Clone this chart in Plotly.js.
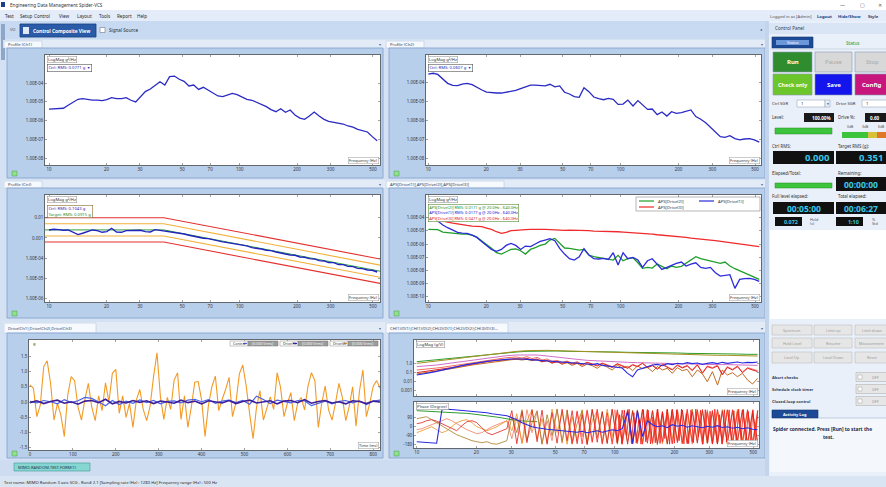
<!DOCTYPE html>
<html>
<head>
<meta charset="utf-8">
<script src="https://cdn.plot.ly/plotly-3.0.1.min.js"></script>
<style>
  html, body { margin: 0; padding: 0; background: #d3e1f2; overflow: hidden; }
  #chart { width: 886px; height: 487px; }
</style>
</head>
<body>
<div id="chart"></div>
<script>
// ---------------- data ----------------
// frequency grid of the spectral views (Hz)
const freqHz = [10,10.6,11.2,11.9,12.6,13.4,14.2,15.0,15.9,16.9,17.9,19.0,20.1,21.3,22.6,24.0,25.4,26.9,28.5,30.2,
  32.0,34.0,36.0,38.2,40.5,42.9,45.5,48.2,51.1,54.2,57.4,60.9,64.5,68.4,72.5,76.9,81.5,86.4,91.5,97.0,
  103,109,116,123,130,138,146,155,164,174,184,195,207,219,232,246,261,277,293,311,330,349,370,393,416,441,468,496,526];
const freqHzCoarse = [10,11.2,12.6,14.2,15.9,17.9,20.1,22.6,25.4,28.5,32.0,36.0,40.5,45.5,51.1,57.4,64.5,72.5,81.5,91.5,
  103,116,130,146,164,184,207,232,261,293,330,370,416,468,526];
const freqHzFine = [100,102.8,105.7,108.7,111.7,114.9,118.1,121.4,124.8,128.3,131.9,135.6,139.4,143.3,147.3,151.5,155.7,
  160.1,164.6,169.2,174.0,178.9,183.9,189.0,194.3,199.8,205.4,211.2,217.1,223.2,229.5,235.9,242.5,249.3,256.3,263.5,
  270.9,278.5,286.4,294.4,302.7,311.2,319.9,328.9,338.1,347.6,357.4,367.4,377.7,388.3,399.2,410.4,422.0,433.8,446.0,
  458.5,471.4,484.6,498.2,512.2,526.6];

// Profile (Ch1) and Profile (Ch2), g^2/Hz
const ch1Psd = [4.0e-6,4.1e-6,4.3e-6,4.5e-6,6.5e-6,9.8e-6,1.35e-5,1.45e-5,1.29e-5,1.23e-5,
  1.23e-5,1.15e-5,1.29e-5,1.66e-5,1.45e-5,1.45e-5,1.66e-5,1.20e-5,9.8e-6,1.74e-5,
  3.47e-5,4.79e-5,7.76e-5,1.17e-4,7.76e-5,2.19e-4,2.34e-4,1.58e-4,1.23e-4,6.92e-5,
  7.76e-5,4.57e-5,5.89e-5,4.27e-5,2.82e-5,2.04e-5,1.86e-5,2.40e-5,2.82e-5,2.40e-5,
  1.74e-5,1.35e-5,1.20e-5,9.3e-6,6.9e-6,5.5e-6,3.8e-6,2.95e-6,4.27e-6,2.75e-6,
  3.63e-6,1.95e-6,1.35e-6,1.15e-6,1.74e-6,2.82e-6,1.74e-6,1.15e-6,9.1e-7,8.3e-7,
  7.4e-7,6.5e-7,5.1e-7,4.4e-7,3.4e-7,2.9e-7,2.45e-7,1.38e-7,8.3e-8];
const ch2Psd = [2.63e-4,2.88e-4,2.51e-4,1.38e-4,8.5e-5,6.6e-5,6.4e-5,7.8e-5,8.5e-5,7.2e-5,
  5.0e-5,3.8e-5,2.95e-5,2.75e-5,2.63e-5,2.63e-5,2.95e-5,3.2e-5,3.6e-5,4.5e-5,
  5.5e-5,6.9e-5,6.9e-5,6.6e-5,6.2e-5,7.6e-5,5.6e-5,6.2e-5,2.88e-5,2.34e-5,
  1.70e-5,1.55e-5,5.0e-5,3.1e-5,1.62e-5,1.32e-5,1.17e-5,1.38e-5,1.23e-5,6.6e-6,
  6.9e-6,1.12e-5,5.5e-6,1.05e-5,6.6e-6,3.6e-6,3.8e-6,1.91e-6,2.63e-6,1.62e-6,
  2.75e-6,2.24e-6,2.45e-6,2.95e-6,3.4e-6,1.51e-6,1.10e-6,7.2e-7,4.1e-7,2.34e-7,
  1.32e-7,1.23e-7,1.51e-7,1.05e-7,9.1e-8,1.0e-7,1.05e-7,8.9e-8,6.9e-8];

// Profile (Ctrl): control spectrum, reference profile and tolerance lines
const ctrlPsd = [2.49e-3,2.69e-3,2.58e-3,2.39e-3,2.49e-3,1.98e-3,1.47e-3,1.71e-3,2.14e-3,2.49e-3,
  2.31e-3,1.91e-3,2.06e-3,3.01e-3,1.98e-3,1.91e-3,2.31e-3,2.31e-3,2.22e-3,2.39e-3,
  2.06e-3,1.98e-3,2.58e-3,2.39e-3,2.22e-3,1.98e-3,1.84e-3,1.64e-3,1.58e-3,1.36e-3,
  1.21e-3,1.12e-3,9.7e-4,9.3e-4,8.0e-4,7.4e-4,6.4e-4,5.9e-4,5.5e-4,4.7e-4,
  4.4e-4,4.1e-4,3.35e-4,3.23e-4,2.88e-4,2.48e-4,2.39e-4,2.05e-4,1.83e-4,1.70e-4,
  1.46e-4,1.41e-4,1.16e-4,1.12e-4,9.6e-5,9.3e-5,7.7e-5,7.4e-5,6.1e-5,6.1e-5,
  4.9e-5,4.9e-5,4.0e-5,3.9e-5,3.2e-5,3.1e-5,2.66e-5,2.56e-5,2.12e-5];
const profileFreqHz = [9, 40, 560];
const profileTarget = [2.5e-3, 2.5e-3, 2.2e-5];
const alarmHigh = [5.0e-3, 5.0e-3, 4.4e-5];
const alarmLow = [1.25e-3, 1.25e-3, 1.1e-5];
const abortHigh = [1.0e-2, 1.0e-2, 8.8e-5];
const abortLow = [6.3e-4, 6.3e-4, 5.5e-6];

// APS of the three drives
const apsDrive2 = [1.30e-5,1.30e-5,1.23e-5,8.1e-6,7.3e-6,6.5e-6,6.1e-6,5.7e-6,5.7e-6,4.8e-6,
  3.2e-6,1.69e-6,9.4e-7,4.7e-7,2.20e-7,1.74e-7,2.62e-7,3.9e-7,4.2e-7,3.1e-7,
  1.74e-7,3.9e-7,5.3e-7,7.9e-7,1.0e-6,2.01e-6,2.69e-6,1.26e-6,5.0e-7,4.7e-7,
  3.9e-7,3.5e-7,3.9e-7,1.46e-7,1.09e-7,9.7e-8,8.1e-8,7.3e-8,6.1e-8,1.38e-7,
  5.4e-8,7.7e-8,9.2e-8,3.8e-8,1.42e-8,1.69e-8,1.50e-8,3.0e-8,1.90e-8,1.34e-8,
  2.13e-8,1.69e-8,2.01e-8,3.4e-8,6.1e-8,1.09e-7,7.7e-8,6.1e-8,4.8e-8,4.1e-8,
  3.4e-8,4.3e-8,2.13e-8,1.34e-8,9.4e-9,6.7e-9,4.4e-9,2.94e-9,2.07e-9];
const apsDrive1 = [1.06e-4,1.0e-4,5.6e-5,2.77e-5,1.74e-5,1.16e-5,7.7e-6,6.8e-6,6.5e-6,4.8e-6,
  3.2e-6,1.50e-6,7.5e-7,3.9e-7,2.77e-7,3.9e-7,7.9e-7,1.12e-6,7.9e-7,3.9e-7,
  7.0e-7,6.3e-7,1.0e-6,1.60e-6,2.01e-6,2.54e-6,1.79e-6,4.7e-7,1.74e-7,7.7e-8,
  6.1e-8,1.09e-7,4.4e-7,1.46e-7,7.7e-8,7.3e-8,8.1e-8,6.8e-8,2.20e-7,2.54e-8,
  2.20e-7,7.7e-8,9.7e-8,6.1e-8,1.69e-8,5.4e-8,7.7e-8,3.0e-8,1.19e-8,1.69e-8,
  2.40e-8,3.4e-8,4.3e-8,2.13e-8,3.0e-8,3.8e-8,1.69e-8,1.42e-8,1.69e-8,6.7e-9,
  3.7e-9,4.2e-9,4.7e-9,4.3e-10,2.07e-9,2.33e-9,2.47e-9,2.07e-9,1.46e-9];
const apsDrive3 = [1.06e-4,8.4e-5,6.7e-5,5.6e-5,4.7e-5,3.9e-5,3.3e-5,2.77e-5,2.62e-5,2.33e-5,
  2.20e-5,2.07e-5,1.64e-5,1.30e-5,8.6e-6,6.5e-6,7.7e-6,1.03e-5,1.09e-5,1.23e-5,
  1.23e-5,1.30e-5,1.38e-5,1.30e-5,1.30e-5,1.23e-5,1.16e-5,1.23e-5,1.09e-5,1.16e-5,
  1.09e-5,1.16e-5,1.03e-5,1.03e-5,9.7e-6,9.7e-6,9.2e-6,9.7e-6,8.6e-6,8.6e-6,
  8.1e-6,7.7e-6,7.7e-6,6.8e-6,6.5e-6,6.1e-6,5.7e-6,5.1e-6,4.8e-6,4.3e-6,
  4.1e-6,3.8e-6,3.6e-6,3.2e-6,2.86e-6,2.69e-6,2.40e-6,2.26e-6,2.01e-6,1.79e-6,
  1.60e-6,1.42e-6,1.26e-6,1.12e-6,1.0e-6,8.9e-7,7.5e-7,6.7e-7,6.3e-7];

// drive time histories (ms, V)
const timeMs = [0,8,16,24,32,40,48,56,64,72,80,88,96,104,112,120,128,136,144,152,160,168,176,184,192,200,
  208,216,224,232,240,248,256,264,272,280,288,296,304,312,320,328,336,344,352,360,368,376,384,392,400,
  408,416,424,432,440,448,456,464,472,480,488,496,504,512,520,528,536,544,552,560,568,576,584,592,600,
  608,616,624,632,640,648,656,664,672,680,688,696,704,712,720,728,736,744,752,760,768,776,784,792,800,808,816];
const driveCh2 = [0.56,0.45,-0.48,-0.10,1.16,1.35,0.61,-0.59,-0.04,-0.43,
  -1.13,0.23,0.83,0.70,-0.17,-0.59,0.09,0.61,-0.17,-0.61,
  0.20,-0.28,0.63,0.01,0.94,1.07,-0.37,0.20,-0.50,-0.04,
  -0.83,0.07,0.41,-0.24,-0.61,-0.13,0.83,1.61,0.17,-0.57,
  0.15,-0.24,0.72,0.96,-0.57,0.20,-0.83,-0.17,0.65,0.67,
  0.07,-1.13,-0.10,0.50,0.85,-0.28,0.09,0.41,0.81,-0.48,
  -0.02,0.92,1.21,0.52,-0.39,-1.20,-0.17,0.37,-0.59,-0.24,
  0.17,-0.24,0.96,0.48,-0.48,-0.04,0.31,-0.61,-0.04,0.15,
  -0.26,0.52,0.96,0.70,-0.83,-0.04,0.52,-0.26,-0.59,-0.04,
  0.61,0.15,-0.61,-0.15,0.50,-0.79,0.37,1.05,-0.48,-0.04,
  0.52,0.70,0.45];
const timeMsSlow = [0,16,32,48,64,80,96,112,128,144,160,176,192,208,224,240,256,272,288,304,320,336,352,368,384,400,
  416,432,448,464,480,496,512,528,544,560,576,592,608,624,640,656,672,688,704,720,736,752,768,784,800,816];
const driveCh1 = [0.02,-0.03,0.05,0.01,-0.06,0.08,-0.02,0.04,0.15,0.12,
  0.00,-0.12,0.05,-0.08,0.03,-0.04,0.07,-0.02,0.05,-0.06,
  0.02,0.04,-0.03,0.06,0.09,0.01,0.08,-0.04,0.03,0.06,
  -0.02,0.05,-0.07,0.19,0.08,-0.05,0.06,0.02,-0.03,0.05,
  0.04,-0.12,-0.04,0.03,-0.06,0.02,0.05,-0.03,0.04,-0.08,
  0.03,0.06];
const driveCh3 = [-0.02,0.04,-0.05,0.02,0.06,-0.04,0.01,-0.07,0.03,0.05,
  -0.02,0.09,-0.06,0.02,-0.03,0.05,-0.01,0.04,-0.05,0.03,
  0.00,-0.04,0.06,-0.02,0.03,-0.06,0.04,0.01,-0.03,0.05,
  -0.05,0.02,0.06,-0.03,0.01,0.04,-0.06,0.03,0.05,-0.02,
  0.08,-0.04,0.02,0.05,-0.03,0.01,-0.06,0.04,0.02,-0.05,
  0.03,0.00];

// transfer functions: magnitude (g/V)
const frfMagRed = [0.087,0.103,0.112,0.144,0.17,0.20,0.24,0.31,0.40,0.51,
  0.66,0.78,0.92,1.18,1.40,1.66,1.96,2.14,2.53,2.75,
  2.99,2.53,3.26,2.14,2.75,1.40,1.80,1.09,1.29,0.92,
  1.40,0.78,1.09,0.60,1.18,0.71,0.47,0.92,0.55,0.33,
  0.78,0.47,0.26,0.60,0.40,0.92,0.31,0.51,0.20,0.66,
  0.36,0.17,0.55,0.28,0.47,0.144,0.60,0.073,0.40,0.26,
  0.47,0.048,0.33,0.17,0.40,0.087,0.26,0.17,0.112];
const frfMagBrown = [0.062,0.073,0.087,0.112,0.144,0.17,0.20,0.24,0.31,0.40,
  0.47,0.60,0.71,0.85,1.09,1.29,1.52,1.80,2.14,2.32,
  2.53,2.14,2.53,1.80,2.32,1.29,1.96,0.92,1.52,0.71,
  1.09,0.55,0.92,0.40,0.78,0.51,0.26,0.66,0.36,0.17,
  0.55,0.28,0.43,0.144,0.47,0.24,0.33,0.112,0.40,0.17,
  0.26,0.073,0.31,0.144,0.20,0.031,0.17,0.062,0.0089,0.112,
  0.0038,0.17,0.048,0.087,0.031,0.073,0.0135,0.0049,0.021];
const frfMagSalmon = [0.17,0.185,0.20,0.24,0.28,0.33,0.40,0.47,0.60,0.78,
  0.92,1.09,1.40,1.66,1.96,2.32,2.75,3.26,3.86,4.20,
  4.56,3.54,4.97,2.99,4.20,2.14,2.75,1.52,1.96,1.18,
  1.66,0.92,1.40,0.71,1.09,0.85,0.55,1.0,0.66,0.40,
  0.85,0.51,0.31,0.71,0.43,1.0,0.36,0.60,0.24,0.78,
  0.43,0.20,0.66,0.33,0.55,0.17,0.71,0.087,0.47,0.31,
  0.55,0.062,0.40,0.20,0.47,0.103,0.31,0.20,0.144];
const frfMagBlue = [0.048,0.057,0.073,0.094,0.121,0.17,0.22,0.28,0.40,0.51,
  0.66,0.85,1.09,1.29,1.52,1.80,2.14,2.32,2.53,2.75,
  2.99,2.75,2.53,2.32,2.14,1.96,1.80,1.66,1.40,1.29,
  1.09,1.18,0.92,1.0,0.78,0.66,0.85,0.55,0.47,0.40,
  0.33,0.28,0.073,0.031,0.17,0.26,0.47,0.60,0.71,0.51,
  0.85,0.66,0.92,0.78,1.09,0.85,1.0,0.71,0.92,1.09,
  0.85,1.18,0.92,1.09,1.29,1.0,1.18,1.09,1.29];
const frfMagGreen = [1.40,1.80,2.32,2.99,3.86,4.97,6.40,8.24,10.6,13.7,16.2,19.1,20.8,20.8,20.8,19.1,19.1,17.6,
  17.6,16.2,16.2,14.9,14.9,13.7,13.7,12.6,12.6,11.5,11.5,10.6,10.6,9.75,9.75,8.96,8.96];
const frfMagOlive = [0.92,1.18,1.52,2.14,2.99,4.20,5.88,8.24,11.5,14.9,19.1,22.6,24.7,24.7,22.6,20.8,19.1,17.6,
  16.2,14.9,13.7,12.6,11.5,10.6,9.75,8.96,8.24,8.24,7.57,7.57,6.96,6.96,6.40,6.40,5.88];
const frfMagPink = [0.40,0.47,0.60,0.85,1.18,1.80,2.53,3.54,4.97,6.40,7.57,8.24,7.57,5.88,4.20,2.99,2.53,1.96,
  1.66,1.40,1.29,1.18,1.09,1.0,0.92,0.85,0.78,0.78,0.71,0.71,0.66,0.66,0.60,0.60,0.55];

// transfer functions: phase (degree)
const phaseRed = [30,40,60,70,55,30,0,-20,-40,10,50,60,40,-10,-60,-80,-60,-40,-20,
  160,-170,150,-160,170,-150,165,-175,140,-165,175,-140,160,-170,120,-180,170,-155,150,-170,
  175,-160,165,-175,155,-150,170,-165,160,-178,145,-170,175,-160,168,-172,150,-165,172,-158,
  162,-175,155,-168,170,-150,165,-172,158,-160];
const phaseSalmon = [-30,-20,0,20,40,60,80,60,30,0,-30,-50,-70,-60,-30,0,20,40,60,
  -120,90,-160,170,-60,150,-170,60,-140,175,-165,120,-175,160,-100,170,-160,140,-175,80,
  -150,170,-165,155,-170,130,-160,175,-140,165,-170,100,-165,172,-155,160,-175,150,-120,170,
  -168,158,-172,165,-160,140,-175,168,-150,120];
const phaseBrown = [80,90,100,70,40,10,-20,-50,-80,-100,-120,-140,-150,-160,-150,-170,-175,-160,-140,
  100,-60,170,-140,40,160,-175,120,-90,175,-150,165,-170,30,160,-165,175,-110,150,-160,
  170,-175,110,-150,165,-170,175,-130,160,-165,150,-175,170,-140,165,-160,175,-150,160,-170,
  145,-165,170,-175,150,-160,172,-168,140,-155];
const phaseOrange = [-60,-40,-20,0,-30,-60,-40,0,40,60,70,40,0,-20,-40,-20,0,30,60,
  -40,130,-170,60,170,-120,80,-160,175,-60,150,-175,100,-140,170,-170,60,160,-155,175,
  -100,140,-175,165,-130,170,-160,120,-175,150,-165,175,-120,160,-170,140,-150,175,-165,130,
  -175,160,-140,170,-160,175,-130,150,-170,100];
const phaseRedHigh = [170,-165,150,-172,160,-150,175,-168,140,-175,165,-160,172,-170,155,-175,168,-162,175,-150,
  170,-172,160,-168,175,-155,165,-175,150,-170,172,-160,168,-175,155,-165,170,-172,160];
const phaseRedFine = [170,-160,120,-175,165,-90,175,-170,140,-165,60,-175,170,-150,165,-172,100,-160,175,-168,
  150,-120,172,-175,160,-165,170,-140,175,-172,130,-170,168,-160,175,-100,165,-175,170,-158,
  155,-172,175,-165,120,-175,170,-150,168,-172,160,-168,175,-130,172,-175,150,-165,170,-160,165];
const phaseGreen = [160,158,156,154,152,150,147,144,141,137,133,128,123,117,111,104,96,88,78,68,62,58,55,52,50];
const phaseBlue = [-150,-155,-160,-165,-165,170,175,172,168,164,160,155,150,145,140,130,125,118,110,90,
  70,40,20,0,-10,-20,-25,-30,-35,-40,-45,-50,-55,-45,-60,-50,-40,-55,-45,-30,
  -40,-20,150,-170,160,-100,60,20,0,10,-10,20,5,15,-5,10,0,-10,5,-5,
  10,-8,0,-15,-5,-20,-10,-25,-30];

// tick labels
const freqTickVals = [10,20,30,50,70,100,200,300,500];
const freqTickText = ['10','20','30','50','70','100','200','300','500'];
const psdTickVals = [1e-4,1e-5,1e-6,1e-7,1e-8];
const psdTickText = ['1.00E-04','1.00E-05','1.00E-06','1.00E-07','1.00E-08'];
const ctrlTickVals = [1e-2,1e-3,1e-4,1e-5,1e-6];
const ctrlTickText = ['0.01','0.001','1.00E-04','1.00E-05','1.00E-06'];
const apsTickVals = [1e-4,1e-5,1e-6,1e-7,1e-8,1e-9,1e-10];
const apsTickText = ['1.00E-04','1.00E-05','1.00E-06','1.00E-07','1.00E-08','1.00E-09','1.00E-10'];
const timeTickVals = [0,100,200,300,400,500,600,700,800];
const timeTickText = ['0','100','200','300','400','500','600','700','800'];
const voltTickVals = [1.5,1,0.5,0,-0.5,-1,-1.5];
const voltTickText = ['1.5','1.0','0.5','0.0','-0.5','-1.0','-1.5'];
const frfTickVals = [1,0.1,0.01,0.001];
const frfTickText = ['1.0','0.1','0.01','0.001'];
const phaseTickVals = [90,0,-90,-180];
const phaseTickText = ['90','0','-90','-180'];

// ---------------- page geometry helpers ----------------
const W = 886, H = 487;
const FONT = 'Noto Sans, DejaVu Sans, sans-serif';
const fx = v => v / W;
const fy = v => 1 - v / H;
const shapes = [];
const notes = [];

function rect(x0, y0, x1, y1, fill, line, lw, layer) {
  shapes.push({type: 'rect', xref: 'paper', yref: 'paper',
    x0: fx(x0), x1: fx(x1), y0: fy(y1), y1: fy(y0),
    fillcolor: fill, line: {color: line || 'rgba(0,0,0,0)', width: line ? (lw || 0.7) : 0},
    layer: layer || 'below'});
}
function seg(x0, y0, x1, y1, color, w, layer) {
  shapes.push({type: 'line', xref: 'paper', yref: 'paper',
    x0: fx(x0), x1: fx(x1), y0: fy(y0), y1: fy(y1),
    line: {color: color, width: w || 1}, layer: layer || 'above'});
}
function label(x, y, text, o) {
  o = o || {};
  const a = {xref: 'paper', yref: 'paper', x: fx(x), y: fy(y), text: text, showarrow: false,
    xanchor: o.xa || 'left', yanchor: o.ya || 'middle', align: o.align || 'left',
    font: {family: o.family || FONT, size: o.size || 5, color: o.color || '#1d2a40'}};
  if (o.bg) a.bgcolor = o.bg;
  if (o.border) { a.bordercolor = o.border; a.borderwidth = o.bw || 0.6; a.borderpad = o.pad === undefined ? 0.8 : o.pad; }
  notes.push(a);
}

// ---------------- window chrome ----------------
rect(0, 0, W, 10, '#ffffff');
rect(1, 2, 5, 7, '#1d3f8a');
label(8, 5, 'Engineering Data Management Spider-VCS', {size: 4.6, color: '#333'});
label(842, 5, '—', {size: 5, color: '#555', xa: 'center'});
label(862, 5, '▢', {size: 5, color: '#555', xa: 'center'});
label(880, 5, '✕', {size: 5, color: '#555', xa: 'center'});

rect(0, 10, W, 21, '#e3ecf8');
[['Test', 3], ['Setup', 18], ['Control', 32], ['View', 57], ['Layout', 75], ['Tools', 97], ['Report', 115], ['Help', 135]]
  .forEach(m => label(m[1], 16, m[0], {size: 4.6, color: '#2a2a2a'}));
label(768, 16, 'Logged in as [Admin]', {size: 4.2, color: '#555'});
label(815, 16, '<b>Logout</b>', {size: 4.2, color: '#1c3e7a'});
label(836, 16, '<b>Hide/Show</b>', {size: 4.2, color: '#1c3e7a'});
label(866, 16, '<b>Style</b>', {size: 4.2, color: '#1c3e7a'});

rect(0, 21, 767, 39, '#c7daf1');
rect(1, 24, 5, 60, '#8ea7c8');
label(8, 29, 'VO', {size: 4, color: '#555'});
rect(20, 24, 96, 37, '#2a5ba8', '#163f7e', 0.8);
rect(23, 27, 29, 34, '#dfe9f7');
label(31, 30.5, '<b>Control Composite View</b>', {size: 4.8, color: '#ffffff'});
rect(100, 27.5, 105, 32.5, '#ffffff', '#6a7a90', 0.6);
label(107, 30, 'Signal Source', {size: 4.6, color: '#2a2a2a'});

// ---------------- panels ----------------
function panel(x0, x1, tabY0, tabY1, frameY1, title, tabW, plotRects) {
  rect(x0 - 4, tabY0, x1 + 2, tabY1, '#e3ebf7');
  rect(x0 - 3, tabY0 + 1, x0 - 3 + tabW, tabY1, '#f6f9fd', '#a9bedb', 0.5);
  label(x0 - 1, (tabY0 + tabY1) / 2 + 0.5, title, {size: 4.2, color: '#34435c'});
  label(x1 - 3, (tabY0 + tabY1) / 2 + 0.5, '▾', {size: 4, color: '#667', xa: 'center'});
  rect(x0, tabY1, x1, frameY1, '#b8cfec', '#7f9fcb', 0.8);
  plotRects.forEach(r => rect(r[0], r[1], r[2], r[3], '#ffffff'));
  rect(x0 + 5, frameY1 - 7, x0 + 10, frameY1 - 2, '#8fe08f', '#4a9a4a', 0.5);
}
panel(7, 383, 40, 48, 178, 'Profile (Ch1)', 38, [[45, 55, 380, 165]]);
panel(389, 765, 40, 48, 178, 'Profile (Ch2)', 38, [[426, 55, 761, 165]]);
panel(7, 383, 180, 188, 318, 'Profile (Ctrl)', 38, [[45, 195, 380, 302]]);
panel(389, 765, 180, 188, 318, 'APS[Drive(1)],APS[Drive(2)],APS[Drive(3)]', 118, [[426, 195, 761, 302]]);
panel(7, 383, 322, 333, 458, 'Drive(Ch1),Drive(Ch2),Drive(Ch3)', 92, [[29, 340, 380, 450]]);
panel(389, 765, 322, 333, 458, 'CH(1)/D(1),CH(1)/D(2),CH(2)/D(1),CH(2)/D(2),CH(3)/D(3)...', 122, [[414, 340, 759, 396], [414, 402, 759, 448]]);

// bottom tab strip and status bar
rect(0, 460, 767, 476, '#cddcf0');
rect(14, 463, 90, 471, '#86d6d2', '#3d9a98', 0.6);
label(16, 467, 'MIMO-RANDOM-TEST-FORM(1)', {size: 4, color: '#1d3550'});
rect(0, 476, W, H, '#dae5f3');
label(2, 482, 'Test name: MIMO Random 3 axis SCG - Run# 2.1 [Sampling rate (Hz) : 1280 Hz] Frequency range (Hz) : 500 Hz', {size: 4.2, color: '#2a2a2a'});

// ---------------- in-plot tags ----------------
function tagTopLeft(x, y, text) { label(x, y, text, {size: 4.2, color: '#333', xa: 'left', ya: 'top', bg: '#ffffff', border: '#999', pad: 0.5}); }
function tagBottomRight(x, y, text) { label(x, y, text, {size: 4, color: '#333', xa: 'right', ya: 'bottom', bg: '#ffffff', border: '#aaa', pad: 0.5}); }

tagTopLeft(47, 56, 'LogMag g²/Hz');
label(47, 64, 'Ctrl: RMS: 0.0771 g  ▾', {size: 4.2, color: '#1f1fb0', ya: 'top', bg: '#ffffff', border: '#555', pad: 0.8});
tagBottomRight(379, 164, 'Frequency (Hz)');

tagTopLeft(428, 56, 'LogMag g²/Hz');
label(428, 64, 'Ctrl: RMS: 0.0607 g  ▾', {size: 4.2, color: '#1f1fb0', ya: 'top', bg: '#ffffff', border: '#555', pad: 0.8});
tagBottomRight(760, 164, 'Frequency (Hz)');

tagTopLeft(47, 196, 'LogMag g²/Hz');
label(47, 205, '<span style="color:#1f1fb0">Ctrl: RMS: 0.1043 g</span><br><span style="color:#2a8a2a">Target: RMS: 0.0915 g</span>',
  {size: 4.2, ya: 'top', bg: '#ffffff', border: '#8a6a2a', pad: 0.8});
tagBottomRight(379, 301, 'Frequency (Hz)');

tagTopLeft(428, 196, 'LogMag g²/Hz');
label(428, 204, '<span style="color:#1f8f1f">APS[Drive(2)] RMS: 0.0171 g @ 20.0Hz - 640.0Hz</span><br>' +
  '<span style="color:#2020d0">APS[Drive(1)] RMS: 0.0177 g @ 20.0Hz - 640.0Hz</span><br>' +
  '<span style="color:#e02020">APS[Drive(3)] RMS: 0.0477 g @ 20.0Hz - 640.0Hz</span>',
  {size: 4, ya: 'top', bg: '#ffffff', border: '#5a8a3a', pad: 0.6});
tagBottomRight(760, 301, 'Frequency (Hz)');

// spectrum key box of the APS view
rect(636, 197, 760, 211, '#ffffff', '#888', 0.6, 'above');
seg(639, 201, 654, 201, '#1f9e2a', 1.2);
label(656, 201, 'APS[Drive(2)]', {size: 4.2, color: '#333'});
seg(699, 201, 714, 201, '#2b2bd9', 1.2);
label(716, 201, 'APS[Drive(1)]', {size: 4.2, color: '#333'});
seg(639, 207, 654, 207, '#ef2b2b', 1.2);
label(656, 207, 'APS[Drive(3)]', {size: 4.2, color: '#333'});

// key of the drive time histories
[[230, 'Control', '#4a63e6'], [280, 'Drive(1)', '#3c1e99'], [330, 'Drive(2)', '#f39a25']].forEach(k => {
  rect(k[0], 341, k[0] + 18, 346, '#ffffff', '#888', 0.5, 'above');
  seg(k[0] + 13, 343.5, k[0] + 17, 343.5, k[2], 1.2);
  label(k[0] + 1, 343.5, k[1], {size: 3.6, color: '#333'});
  rect(k[0] + 18, 341, k[0] + 48, 346, '#9c9c9c', '#777', 0.5, 'above');
  label(k[0] + 20, 343.5, '[0.000 Vrms]', {size: 3.6, color: '#f4f4f4'});
});
label(31, 343, 'g', {size: 4.2, color: '#333'});
tagBottomRight(379, 449, 'Time (ms)');

tagTopLeft(416, 341, 'LogMag (g/V)');
tagBottomRight(758, 395, 'Frequency (Hz)');
tagTopLeft(416, 403, 'Phase (Degree)');
tagBottomRight(758, 447, 'Frequency (Hz)');

// ---------------- control panel ----------------
rect(765, 21, 769, 476, '#c3d4eb');
rect(769, 21, W, 476, '#e9f0f9');
rect(769, 23, W, 34, '#d9e5f4');
label(773, 28.5, 'Control Panel', {size: 4.6, color: '#2a3a55'});
label(761, 29, '◂', {size: 4, color: '#556', xa: 'center'});
rect(772, 37, 813, 48, '#1d4a96', '#123570', 0.6);
rect(776, 40, 809, 45, '#6c98da');
label(792.5, 42.5, 'Status', {size: 4, color: '#ffffff', xa: 'center'});
label(852, 43, 'Status', {size: 4.6, color: '#2a9a2a', xa: 'center'});
seg(770, 49, W, 49, '#b9c9de', 0.6, 'below');

function button(x0, y0, x1, y1, fill, text, tcolor, size) {
  rect(x0, y0, x1, y1, fill, '#8a9ab0', 0.6);
  label((x0 + x1) / 2, (y0 + y1) / 2, text, {size: size || 6, color: tcolor, xa: 'center'});
}
button(773, 52, 812, 72, '#2f8c2f', '<b>Run</b>', '#ffffff');
button(815, 52, 852, 72, '#d8d8d8', 'Pause', '#a8a8a8');
button(855, 52, 889, 72, '#d8d8d8', 'Stop', '#a8a8a8');
button(773, 74, 812, 95, '#6cc52b', '<b>Check only</b>', '#ffffff', 5.4);
button(815, 74, 852, 95, '#1414ec', '<b>Save</b>', '#ffffff');
button(855, 74, 889, 95, '#c8167f', '<b>Config</b>', '#ffffff');

label(770, 103.5, 'Ctrl SGR', {size: 4.2, color: '#333'});
rect(797, 100, 825, 107, '#ffffff', '#8a9ab0', 0.5);
label(799, 103.5, '1', {size: 4.2, color: '#333'});
rect(825, 100, 830, 107, '#e8eef6', '#8a9ab0', 0.5);
label(827.5, 103.5, '▾', {size: 3.6, color: '#333', xa: 'center'});
label(834, 103.5, 'Drive SGR', {size: 4.2, color: '#333'});
rect(862, 100, 889, 107, '#ffffff', '#8a9ab0', 0.5);
label(864, 103.5, '1', {size: 4.2, color: '#333'});

label(770, 117, 'Level:', {size: 4.4, color: '#333'});
rect(804, 113, 834, 122, '#1a1a1a');
label(833, 117.5, '<b>100.00%</b>', {size: 4.6, color: '#ffffff', xa: 'right'});
label(836, 117, 'Drive %:', {size: 4.4, color: '#333'});
rect(865, 113, 889, 122, '#1a1a1a');
label(868, 117.5, '<b>0.60</b>', {size: 4.6, color: '#ffffff'});
rect(775, 128, 832, 134, '#3cc43c', '#2a8a2a', 0.5);
label(845, 127, '0dB', {size: 3.4, color: '#555'});
label(860, 127, '3dB', {size: 3.4, color: '#555'});
label(876, 127, '6dB', {size: 3.4, color: '#555'});
rect(842, 132, 868, 138, '#3cc43c');
rect(868, 132, 877, 138, '#d8c23a');
rect(877, 132, 889, 138, '#e0782a');

label(770, 146, 'Ctrl RMS:', {size: 4.4, color: '#333'});
label(836, 146, 'Target RMS (g):', {size: 4.4, color: '#333'});
rect(773, 151, 834, 164, '#111111');
label(832, 157.8, '<b>0.000</b>', {size: 9.5, color: '#39c9ea', xa: 'right'});
rect(836, 151, 889, 164, '#111111');
label(857, 157.8, '<b>0.351</b>', {size: 9.5, color: '#39c9ea'});

label(770, 173, 'Elapsed/Total:', {size: 4.4, color: '#333'});
rect(775, 183, 832, 188, '#3cc43c', '#2a8a2a', 0.5);
label(836, 173, 'Remaining:', {size: 4.4, color: '#333'});
rect(836, 177, 889, 191, '#111111');
label(842, 184.3, '<b>00:00:00</b>', {size: 8.5, color: '#39c9ea'});

label(770, 196, 'Full level elapsed:', {size: 4.4, color: '#333'});
label(836, 196, 'Total elapsed:', {size: 4.4, color: '#333'});
rect(773, 202, 834, 214, '#111111');
label(803.5, 208.3, '<b>00:05:00</b>', {size: 8.5, color: '#39c9ea', xa: 'center'});
rect(836, 202, 889, 214, '#111111');
label(842, 208.3, '<b>00:06:27</b>', {size: 8.5, color: '#39c9ea'});
rect(775, 217, 802, 226, '#111111');
label(800, 221.5, '<b>0.072</b>', {size: 5.4, color: '#39c9ea', xa: 'right'});
label(808, 219, 'Hold', {size: 3.8, color: '#555'});
label(808, 224, '(s)', {size: 3.8, color: '#555'});
rect(836, 217, 863, 226, '#111111');
label(861, 221.5, '<b>1:10</b>', {size: 5.4, color: '#39c9ea', xa: 'right'});
label(870, 219, '%', {size: 3.8, color: '#555'});
label(870, 224, 'Std', {size: 3.8, color: '#555'});

rect(770, 230, W, 319, '#ffffff');
const gridNames = [['Spectrum', 'Limit up', 'Limit down'], ['Hold Level', 'Resume', 'Measurement'], ['Level Up', 'Level Down', 'Reset']];
const gridRows = [[325, 335], [338, 348], [352, 363]];
const gridCols = [[772, 812], [814, 852], [855, 889]];
gridRows.forEach((r, i) => gridCols.forEach((c, j) => {
  rect(c[0], r[0], c[1], r[1], '#e6e6e6', '#b5b5b5', 0.5);
  label((c[0] + c[1]) / 2, (r[0] + r[1]) / 2, gridNames[i][j], {size: 3.8, color: '#9a9a9a', xa: 'center'});
}));
[['Abort checks', 377], ['Schedule clock timer', 389], ['Closed-loop control', 401]].forEach(t => {
  label(770, t[1], '<b>' + t[0] + '</b>', {size: 4, color: '#33415a'});
  rect(856, t[1] - 4.5, 889, t[1] + 4.5, '#e6e6e6', '#a8a8a8', 0.5);
  rect(858, t[1] - 2, 862, t[1] + 2, '#ffffff', '#888', 0.4);
  label(870, t[1], 'OFF', {size: 3.6, color: '#999'});
});
rect(770, 418, W, 472, '#f4f7fb');
rect(772, 410, 818, 418, '#1d4a96', '#123570', 0.6);
label(795, 414, '<b>Activity Log</b>', {size: 4, color: '#ffffff', xa: 'center'});
seg(818, 418, W, 418, '#9fb3d0', 0.6, 'below');
label(771, 429, '<b>Spider connected. Press [Run] to start the</b>', {size: 4.8, color: '#1c2c4c'});
label(828, 437, '<b>test.</b>', {size: 4.8, color: '#1c2c4c', xa: 'center'});

// ---------------- axes ----------------
const axisBase = {showline: true, linecolor: '#4d4d4d', linewidth: 0.8, mirror: 'ticks', ticks: 'inside',
  ticklen: 2, tickwidth: 0.6, tickcolor: '#666', showgrid: false, zeroline: false, fixedrange: true,
  tickfont: {family: FONT, size: 4.4, color: '#333'}};
const dx = (a, b) => [a / W, b / W];
const dy = (top, bottom) => [1 - bottom / H, 1 - top / H];
function ax(extra) { return Object.assign({}, axisBase, extra); }
function freqAx(d, range, anchor, showLabels) {
  return ax({type: 'log', domain: d, range: range, anchor: anchor, tickvals: freqTickVals, ticktext: freqTickText,
    showticklabels: showLabels !== false});
}

const layout = {
  width: W, height: H, margin: {l: 0, r: 0, t: 0, b: 0},
  paper_bgcolor: '#d3e1f2', plot_bgcolor: 'rgba(0,0,0,0)', showlegend: false,
  xaxis: freqAx(dx(45, 380), [0.979, 2.736], 'y'),
  yaxis: ax({type: 'log', domain: dy(55, 165), range: [-8.373, -2.507], anchor: 'x', tickvals: psdTickVals, ticktext: psdTickText}),
  xaxis2: freqAx(dx(426, 761), [0.988, 2.730], 'y2'),
  yaxis2: ax({type: 'log', domain: dy(55, 165), range: [-8.368, -2.579], anchor: 'x2', tickvals: psdTickVals, ticktext: psdTickText}),
  xaxis3: freqAx(dx(45, 380), [0.979, 2.736], 'y3'),
  yaxis3: ax({type: 'log', domain: dy(195, 302), range: [-6.153, -0.882], anchor: 'x3', tickvals: ctrlTickVals, ticktext: ctrlTickText}),
  xaxis4: freqAx(dx(426, 761), [0.988, 2.730], 'y4'),
  yaxis4: ax({type: 'log', domain: dy(195, 302), range: [-10.40, -2.276], anchor: 'x4', tickvals: apsTickVals, ticktext: apsTickText}),
  xaxis5: ax({domain: dx(29, 380), range: [-2.3, 815.8], anchor: 'y5', tickvals: timeTickVals, ticktext: timeTickText}),
  yaxis5: ax({domain: dy(340, 450), range: [-1.57, 2.03], anchor: 'x5', tickvals: voltTickVals, ticktext: voltTickText}),
  xaxis6: freqAx(dx(414, 759), [0.986, 2.728], 'y6', false),
  yaxis6: ax({type: 'log', domain: dy(340, 396), range: [-3.626, 2.527], anchor: 'x6', tickvals: frfTickVals, ticktext: frfTickText}),
  xaxis7: freqAx(dx(414, 759), [0.986, 2.728], 'y7'),
  yaxis7: ax({domain: dy(402, 448), range: [-213, 247], anchor: 'x7', tickvals: phaseTickVals, ticktext: phaseTickText}),
  shapes: shapes,
  annotations: notes
};

// ---------------- traces ----------------
function line(x, y, xa, ya, color, width) {
  return {type: 'scatter', mode: 'lines', x: x, y: y, xaxis: xa, yaxis: ya,
    line: {color: color, width: width || 1}, hoverinfo: 'skip', showlegend: false};
}
const data = [
  line(freqHz, ch1Psd, 'x', 'y', '#2a2ac4', 1.3),
  line(freqHz, ch2Psd, 'x2', 'y2', '#2a2ac4', 1.3),

  line(profileFreqHz, abortHigh, 'x3', 'y3', '#e3312f', 1.1),
  line(profileFreqHz, abortLow, 'x3', 'y3', '#e3312f', 1.1),
  line(profileFreqHz, alarmHigh, 'x3', 'y3', '#f2b23a', 1.1),
  line(profileFreqHz, alarmLow, 'x3', 'y3', '#f2b23a', 1.1),
  line(profileFreqHz, profileTarget, 'x3', 'y3', '#2e9e3e', 1),
  line(freqHz, ctrlPsd, 'x3', 'y3', '#2323bf', 1.4),

  line(freqHz, apsDrive2, 'x4', 'y4', '#1f9e2a', 1.3),
  line(freqHz, apsDrive1, 'x4', 'y4', '#2b2bd9', 1.3),
  line(freqHz, apsDrive3, 'x4', 'y4', '#ef2b2b', 1.3),

  line(timeMs, driveCh2, 'x5', 'y5', '#f39a25', 1.1),
  line(timeMsSlow, driveCh1, 'x5', 'y5', '#4a63e6', 1.2),
  line(timeMsSlow, driveCh3, 'x5', 'y5', '#3c1e99', 1.6),

  line(freqHzCoarse, frfMagGreen, 'x6', 'y6', '#2e9e2e', 1),
  line(freqHzCoarse, frfMagOlive, 'x6', 'y6', '#a89020', 1),
  line(freqHzCoarse, frfMagPink, 'x6', 'y6', '#d070c8', 1),
  line(freqHz, frfMagSalmon, 'x6', 'y6', '#f07060', 1),
  line(freqHz, frfMagBrown, 'x6', 'y6', '#c06a20', 1),
  line(freqHz, frfMagRed, 'x6', 'y6', '#e02626', 1),
  line(freqHz, frfMagBlue, 'x6', 'y6', '#2a2ae0', 1.1),

  line(freqHz.slice(0, phaseGreen.length), phaseGreen, 'x7', 'y7', '#2e9e2e', 1),
  line(freqHz, phaseSalmon, 'x7', 'y7', '#f07a60', 0.8),
  line(freqHz, phaseOrange, 'x7', 'y7', '#e8901f', 0.8),
  line(freqHz, phaseBrown, 'x7', 'y7', '#a87a20', 0.8),
  line(freqHz, phaseRed, 'x7', 'y7', '#e02020', 0.8),
  line(freqHz.slice(freqHz.length - phaseRedHigh.length), phaseRedHigh, 'x7', 'y7', '#ff2a2a', 0.8),
  line(freqHzFine, phaseRedFine, 'x7', 'y7', '#f01818', 0.8),
  line(freqHz, phaseBlue, 'x7', 'y7', '#2a2ae0', 1.1)
];

Plotly.newPlot('chart', data, layout, {displayModeBar: false, staticPlot: true});
</script>
</body>
</html>
